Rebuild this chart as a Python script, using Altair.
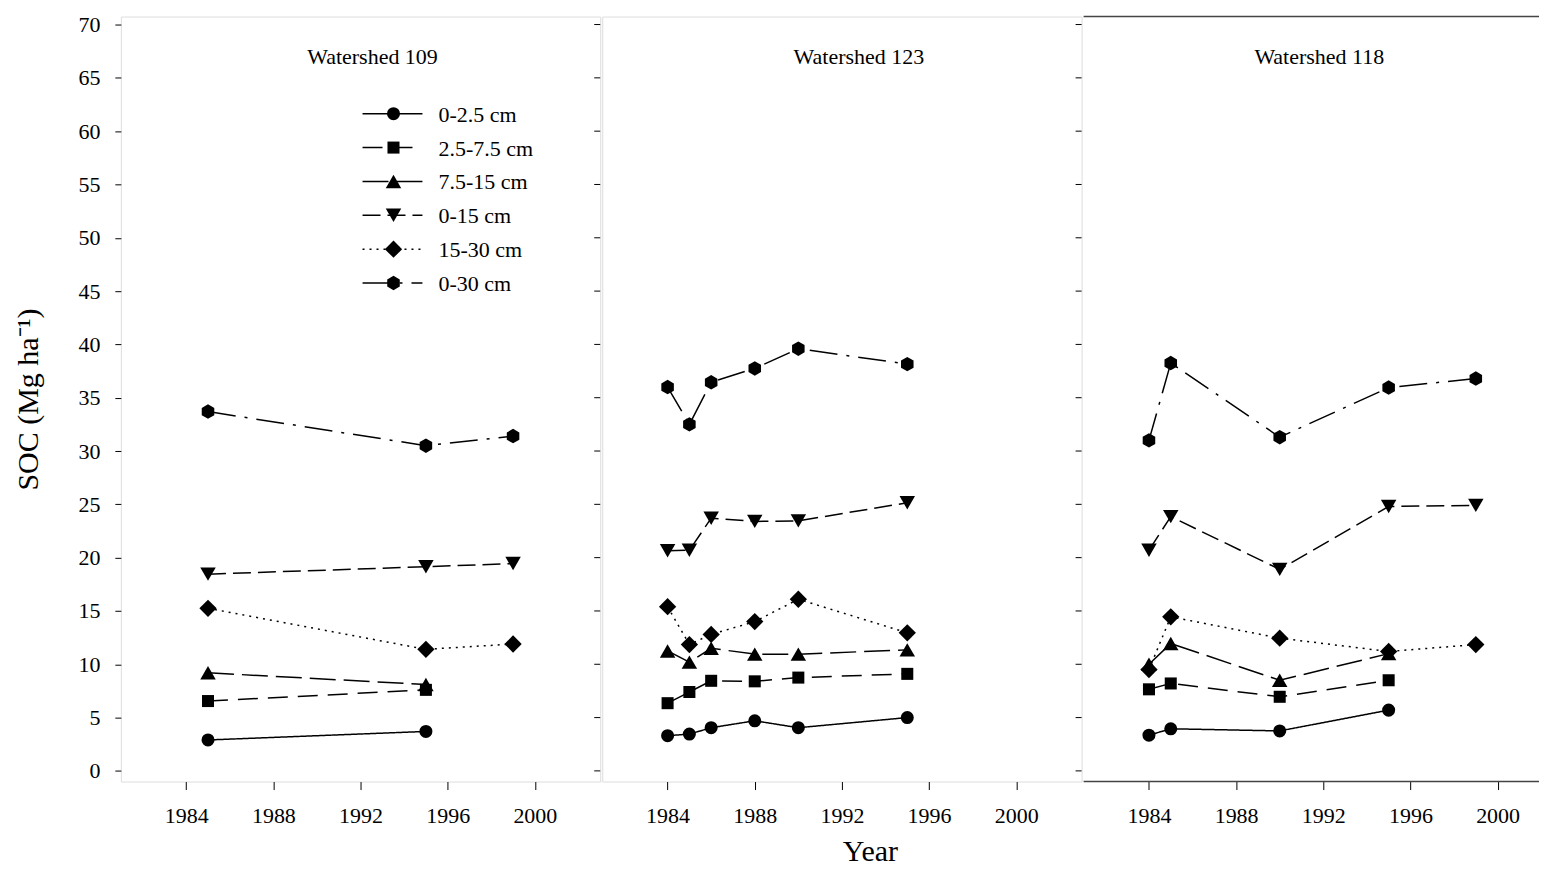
import altair as alt
import pandas as pd

# ---------------- data ----------------
depths = ["0-2.5 cm", "2.5-7.5 cm", "7.5-15 cm", "0-15 cm", "15-30 cm", "0-30 cm"]

panel_names = ["Watershed 109", "Watershed 123", "Watershed 118"]

years_109 = [1985, 1995, 1999]
ws109_0_2_5 = [2.9, 3.7, None]
ws109_2_5_7_5 = [6.55, 7.6, None]
ws109_7_5_15 = [9.2, 8.1, None]
ws109_0_15 = [18.45, 19.15, 19.45]
ws109_15_30 = [15.25, 11.4, 11.9]
ws109_0_30 = [33.7, 30.5, 31.4]

years_123 = [1984, 1985, 1986, 1988, 1990, 1995]
ws123_0_2_5 = [3.3, 3.45, 4.05, 4.7, 4.05, 5.0]
ws123_2_5_7_5 = [6.35, 7.4, 8.45, 8.4, 8.75, 9.1]
ws123_7_5_15 = [11.25, 10.2, 11.5, 10.95, 10.95, 11.35]
ws123_0_15 = [20.65, 20.7, 23.7, 23.4, 23.45, 25.15]
ws123_15_30 = [15.4, 11.85, 12.8, 14.0, 16.1, 12.95]
ws123_0_30 = [36.0, 32.5, 36.45, 37.75, 39.6, 38.15]

years_118 = [1984, 1985, 1990, 1995, 1999]
ws118_0_2_5 = [3.35, 3.95, 3.75, 5.7, None]
ws118_2_5_7_5 = [7.65, 8.2, 6.95, 8.5, None]
ws118_7_5_15 = [10.0, 11.95, 8.5, 11.0, None]
ws118_0_15 = [20.7, 23.85, 18.9, 24.8, 24.9]
ws118_15_30 = [9.5, 14.45, 12.45, 11.2, 11.85]
ws118_0_30 = [31.0, 38.25, 31.3, 35.95, 36.8]

x_ticks = [1984, 1988, 1992, 1996, 2000]
y_ticks = [0, 5, 10, 15, 20, 25, 30, 35, 40, 45, 50, 55, 60, 65, 70]

# ---------------- styles ----------------
FONT = "Liberation Serif"
HEX = "M0,-1L0.866,-0.5L0.866,0.5L0,1L-0.866,0.5L-0.866,-0.5Z"
shapes = ["circle", "square", "triangle-up", "triangle-down", "diamond", HEX]
sizes = [170, 145, 240, 240, 300, 210]
dashes = [[1, 0], [20, 10], [26, 8], [18, 7], [2, 5], [28, 9, 3, 9]]
PH = 766
PWS = [480, 480, 456]
PX_PER_YEAR = 480 / 22.0
Y_DOMAIN = [-1, 70.75]
FRAME = "#444444"


def build(years, series):
    rows = []
    for d, vals in zip(depths, series):
        for yr, v in zip(years, vals):
            if v is not None:
                rows.append({"year": yr, "soc": v, "depth": d})
    return pd.DataFrame(rows)


dfs = [
    build(years_109, [ws109_0_2_5, ws109_2_5_7_5, ws109_7_5_15, ws109_0_15, ws109_15_30, ws109_0_30]),
    build(years_123, [ws123_0_2_5, ws123_2_5_7_5, ws123_7_5_15, ws123_0_15, ws123_15_30, ws123_0_30]),
    build(years_118, [ws118_0_2_5, ws118_2_5_7_5, ws118_7_5_15, ws118_0_15, ws118_15_30, ws118_0_30]),
]
title_x = [252, 257, 236]
tick_df = pd.DataFrame({"v": y_ticks})
one = pd.DataFrame({"a": [0]})


def panel(i):
    df = dfs[i]
    pw = PWS[i]
    common_x = dict(
        values=x_ticks, format="d", grid=False, domain=False,
        tickSize=8, tickColor="black", tickWidth=1,
        labelFontSize=22, labelFont=FONT, labelColor="black", labelPadding=16,
    )
    if i == 1:
        x_axis = alt.Axis(
            title="Year", titleFontSize=30, titleFont=FONT, titleFontWeight="normal",
            titleColor="black", titlePadding=10, titleX=268, **common_x)
    else:
        x_axis = alt.Axis(title=None, **common_x)
    if i == 0:
        y_axis = alt.Axis(
            values=y_ticks, grid=False, domain=False,
            tickSize=6, tickColor="black", tickWidth=1,
            labelFontSize=22, labelFont=FONT, labelColor="black", labelPadding=15,
            title="SOC (Mg ha\u207b\u00b9)",
            titleFontSize=30, titleFont=FONT, titleFontWeight="normal", titleColor="black",
            titlePadding=34,
        )
    else:
        y_axis = None
    xs = alt.Scale(domain=[1981, 1981 + pw / PX_PER_YEAR], nice=False, zero=False)
    ys = alt.Scale(domain=Y_DOMAIN, nice=False, zero=False)
    base = alt.Chart(df).encode(
        x=alt.X("year:Q", scale=xs, axis=x_axis),
        y=alt.Y("soc:Q", scale=ys, axis=y_axis),
    )
    lines = base.mark_line(color="black", strokeWidth=1.5).encode(
        strokeDash=alt.StrokeDash("depth:N", scale=alt.Scale(domain=depths, range=dashes), legend=None)
    )
    layers = [lines]
    for k, d in enumerate(depths):
        layers.append(
            base.transform_filter(alt.datum.depth == d).mark_point(
                filled=True, color="black", opacity=1, strokeWidth=0, shape=shapes[k], size=sizes[k]
            )
        )
    ttl = alt.Chart(one).mark_text(font=FONT, fontSize=22, color="black", baseline="middle", align="center").encode(
        x=alt.value(title_x[i]), y=alt.value(41), text=alt.value(panel_names[i])
    )
    layers.append(ttl)
    if i < 2:
        rticks = alt.Chart(tick_df).mark_rule(color="black", strokeWidth=1).encode(
            y=alt.Y("v:Q", scale=ys, axis=y_axis),
            x=alt.value(pw - 6), x2=alt.value(pw),
        )
        layers.insert(0, rticks)
    if i == 0:
        for k, d in enumerate(depths):
            ly = 97.3 + 33.9 * k
            layers.append(alt.Chart(one).mark_rule(color="black", strokeWidth=1.5, strokeDash=dashes[k]).encode(
                x=alt.value(242), x2=alt.value(302), y=alt.value(ly)))
            layers.append(alt.Chart(one).mark_point(filled=True, color="black", opacity=1, size=sizes[k],
                                                    strokeWidth=0, shape=shapes[k]).encode(
                x=alt.value(273), y=alt.value(ly)))
            layers.append(alt.Chart(one).mark_text(font=FONT, fontSize=22, color="black", align="left",
                                                   baseline="middle").encode(
                x=alt.value(318), y=alt.value(ly + 1), text=alt.value(d)))
    props = dict(width=pw, height=PH)
    if i == 2:
        # the right edge of this panel lies outside the original picture: frame only top and bottom
        for yy in (0, PH):
            layers.append(alt.Chart(one).mark_rule(color=FRAME, strokeWidth=1.4).encode(
                x=alt.value(0), x2=alt.value(pw), y=alt.value(yy)))
        props["view"] = alt.ViewBackground(strokeOpacity=0)
    return alt.layer(*layers).properties(**props)


chart = alt.hconcat(panel(0), panel(1), panel(2), spacing=0).properties(
    padding={"left": 5, "top": 4, "right": 0, "bottom": 0}
).configure_view(
    stroke=FRAME, strokeWidth=1.4
).configure(background="white")

chart.save("out.html", embed_options={"renderer": "svg", "actions": False})
